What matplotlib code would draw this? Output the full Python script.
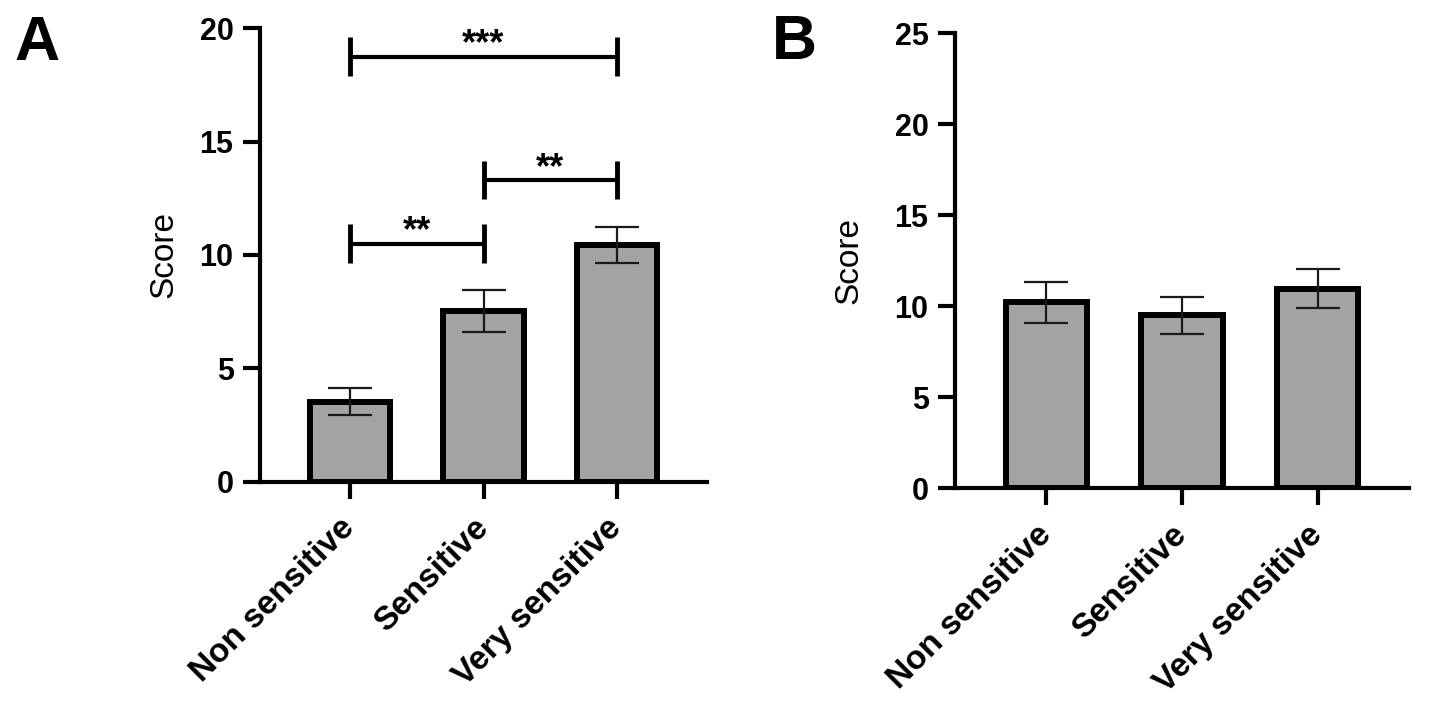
import matplotlib
matplotlib.use('Agg')
import matplotlib.pyplot as plt
import matplotlib.transforms as mtransforms
import numpy as np

plt.rcParams['font.family'] = ['Liberation Sans', 'DejaVu Sans']

groups = ['Non sensitive', 'Sensitive', 'Very sensitive']

# panel A
score_a = [3.53, 7.54, 10.44]
sem_a = [0.59, 0.92, 0.81]
# (from group, to group, bracket height, label)
sig_a = [(0, 2, 18.75, '***'), (1, 2, 13.3, '**'), (0, 1, 10.5, '**')]

# panel B
score_b = [10.22, 9.5, 10.96]
sem_b = [1.12, 1.03, 1.07]

W, H = 1429, 702
fig = plt.figure(figsize=(W / 100, H / 100), dpi=100)

def px_axes(x0, x1, y0, y1):
    # x0..x1 = y axis to x axis end, y0 = top, y1 = zero line (pixels)
    return fig.add_axes([x0 / W, 1 - y1 / H, (x1 - x0) / W, (y1 - y0) / H])

def style(ax, ymax, step, labx):
    x = np.arange(len(groups))
    ax.set_xlim(-0.674, 2.674)
    ax.set_ylim(0, ymax)
    ax.set_yticks(np.arange(0, ymax + 1, step))
    ax.set_xticks(x)
    ax.set_xticklabels(groups, rotation=45, ha='right', va='center',
                       rotation_mode='anchor', fontsize=24, fontweight='bold')
    shift = mtransforms.ScaledTranslation(5 / 72, 4 / 72, fig.dpi_scale_trans)
    for lab in ax.get_xticklabels():
        lab.set_transform(lab.get_transform() + shift)
    for lab in ax.get_yticklabels():
        lab.set_fontweight('bold')
        lab.set_fontsize(22)
    for s in ['top', 'right']:
        ax.spines[s].set_visible(False)
    for s in ['left', 'bottom']:
        ax.spines[s].set_linewidth(3)
    ax.tick_params(axis='y', length=12, width=3, pad=7)
    ax.tick_params(axis='x', length=12, width=3, pad=18)
    ax.set_ylabel('Score', fontsize=24)
    ax.yaxis.set_label_coords(labx, 0.5)

def bars(ax, vals, errs):
    x = np.arange(len(groups))
    ax.bar(x, vals, width=0.6, color='#a3a3a6', edgecolor='black',
           linewidth=4.3, zorder=2)
    ax.errorbar(x, vals, yerr=errs, fmt='none', ecolor='#1a1a1a',
                elinewidth=1.6, capsize=16, capthick=1.6, zorder=3)

ax_a = px_axes(260, 707, 28.3, 481.7)
bars(ax_a, score_a, sem_a)
style(ax_a, 20, 5, -0.18)
for g0, g1, h, txt in sig_a:
    ax_a.plot([g0, g1], [h, h], color='black', lw=3, solid_capstyle='butt',
              clip_on=False)
    for g in (g0, g1):
        ax_a.plot([g, g], [h - 0.85, h + 0.85], color='black', lw=3.5,
                  solid_capstyle='butt', clip_on=False)
    ax_a.text((g0 + g1) / 2, h + 0.1, txt, ha='center', va='baseline',
              fontsize=26, fontweight='bold')

ax_b = px_axes(955, 1409, 33.3, 488.3)
bars(ax_b, score_b, sem_b)
style(ax_b, 25, 5, -0.2)

fig.text(14 / W, 1 - 60 / H, 'A', fontsize=45, fontweight='bold',
         ha='left', va='baseline')
fig.text(772 / W, 1 - 59 / H, 'B', fontsize=45, fontweight='bold',
         ha='left', va='baseline')

fig.savefig('out.png', dpi=100)
